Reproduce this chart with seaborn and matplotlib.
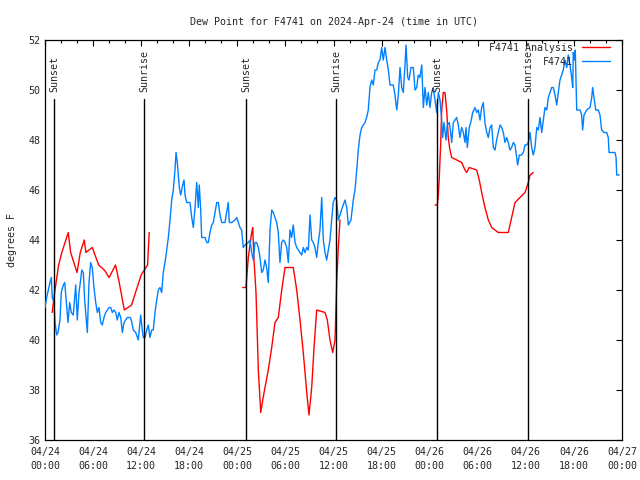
import numpy as np
import pandas as pd
import seaborn as sns
import matplotlib.pyplot as plt

# hours after 2024-04-24 00:00 UTC
obs_hours = [0.00, 0.21, 0.62, 0.79, 0.91, 1.12, 1.25, 1.46, 1.62, 1.87, 2.03, 2.28, 2.46, 2.71, 2.87,
             3.08, 3.28, 3.53, 3.83, 4.03, 4.24, 4.45, 4.58, 4.78, 4.95, 5.28, 5.49, 5.70, 5.90, 6.11,
             6.33, 6.53, 6.74, 6.95, 7.15, 7.36, 7.57, 7.99, 8.20, 8.40, 8.61, 8.82, 9.02, 9.23, 9.45,
             9.65, 9.86, 10.27, 10.61, 10.77, 11.02, 11.32, 11.64, 11.94, 12.14, 12.27, 12.48, 12.69,
             12.89, 13.10, 13.31, 13.51, 13.73, 13.94, 14.14, 14.35, 14.56, 14.76, 14.97, 15.19, 15.39,
             15.60, 15.81, 16.01, 16.22, 16.35, 16.51, 16.76, 16.93, 17.18, 17.35, 17.47, 17.68, 18.09,
             18.31, 18.51, 18.72, 18.93, 19.13, 19.25, 19.43, 19.55, 19.97, 20.18, 20.38, 20.59, 20.80,
             21.00, 21.21, 21.43, 21.62, 21.84, 22.05, 22.46, 22.67, 22.87, 23.00, 23.30, 23.71, 23.92,
             24.12, 24.33, 24.54, 24.74, 24.96, 25.37, 25.58, 25.79, 25.99, 26.20, 26.42, 26.62, 26.83,
             27.04, 27.24, 27.45, 27.66, 27.86, 28.08, 28.29, 28.49, 28.70, 28.91, 29.11, 29.32, 29.53,
             29.74, 29.95, 30.16, 30.36, 30.57, 30.78, 30.98, 31.20, 31.41, 31.82, 32.03, 32.23, 32.44,
             32.66, 32.86, 33.07, 33.28, 33.48, 33.69, 33.90, 34.10, 34.31, 34.53, 34.73, 34.94, 35.15,
             35.35, 35.56, 35.77, 35.97, 36.19, 36.40, 36.60, 36.81, 37.10, 37.44, 37.65, 37.85, 38.18,
             38.47, 38.68, 38.90, 39.09, 39.31, 39.52, 39.93, 40.14, 40.34, 40.55, 40.76, 40.97, 41.18,
             41.39, 41.59, 41.80, 42.01, 42.21, 42.43, 42.64, 42.84, 43.05, 43.46, 43.67, 43.89, 44.09,
             44.30, 44.51, 44.71, 44.92, 45.05, 45.26, 45.42, 45.67, 45.96, 46.17, 46.38, 46.58, 46.79,
             47.01, 47.21, 47.42, 47.63, 47.83, 48.04, 48.25, 48.45, 48.67, 48.88, 49.08, 49.29, 49.50,
             49.62, 49.79, 50.04, 50.20, 50.45, 50.62, 50.75, 50.95, 51.16, 51.37, 51.57, 51.78, 51.99,
             52.20, 52.41, 52.53, 52.70, 52.94, 53.12, 53.37, 53.66, 53.87, 54.07, 54.28, 54.49, 54.69,
             54.90, 55.12, 55.32, 55.53, 55.74, 55.94, 56.15, 56.36, 56.56, 56.78, 56.99, 57.19, 57.40,
             57.61, 57.81, 58.02, 58.23, 58.44, 58.65, 58.86, 58.98, 59.18, 59.48, 59.68, 59.90, 60.11,
             60.31, 60.52, 60.73, 60.93, 61.14, 61.36, 61.56, 61.77, 61.98, 62.18, 62.39, 62.61, 62.81,
             63.01, 63.22, 63.43, 63.64, 63.85, 64.05, 64.26, 64.47, 64.67, 64.89, 65.10, 65.30, 65.51,
             65.72, 65.85, 65.92, 66.05, 66.17, 66.35, 66.76, 66.97, 67.09, 67.26, 67.59, 68.01, 68.22,
             68.34, 68.50, 68.72, 69.04, 69.25, 69.46, 69.72, 70.09, 70.29, 70.38, 71.13, 71.26, 71.34,
             71.66]
obs_dewpt = [41.3, 41.7, 42.3, 42.5, 41.7, 41.5, 40.7, 40.2, 40.3, 40.8, 41.9, 42.2, 42.3, 41.3, 40.7,
             41.5, 41.1, 41.0, 42.2, 40.8, 41.9, 42.4, 42.8, 42.7, 41.6, 40.3, 42.3, 43.1, 42.9, 42.1,
             41.5, 41.1, 41.3, 40.7, 40.6, 40.9, 41.1, 41.3, 41.3, 41.1, 41.2, 41.1, 40.8, 41.1, 40.9,
             40.3, 40.7, 40.9, 40.9, 40.8, 40.4, 40.3, 40.0, 41.0, 40.4, 40.1, 40.1, 40.4,
             40.6, 40.1, 40.4, 40.4, 41.1, 41.6, 42.0, 42.1, 41.9, 42.7, 43.1, 43.6, 44.1,
             44.8, 45.6, 46.0, 46.8, 47.5, 47.1, 46.1, 45.8, 46.2, 46.4, 45.8, 45.5, 45.5,
             44.9, 44.5, 45.3, 46.3, 45.3, 46.2, 45.2, 44.1, 44.1, 43.9, 43.9, 44.3, 44.6,
             44.7, 45.1, 45.5, 45.5, 45.0, 44.7, 44.7, 45.1, 45.5, 44.7, 44.7, 44.8, 44.9,
             44.7, 44.5, 44.4, 43.7, 43.8, 43.9, 44.0, 43.5, 43.2, 43.9, 43.9, 43.7, 43.3,
             42.7, 42.8, 43.2, 42.9, 42.3, 44.4, 45.2, 45.1, 44.9, 44.7, 44.3, 43.1, 43.9,
             44.0, 43.9, 43.7, 43.1, 44.4, 44.1, 44.6, 43.9, 43.7, 43.5, 43.4, 43.7, 43.5,
             43.7, 43.6, 45.0, 44.0, 43.9, 43.7, 43.3, 43.9, 44.4, 45.7, 44.0, 43.5, 43.2,
             43.6, 44.0, 44.8, 45.5, 45.7, 45.6, 44.8, 45.0, 45.3, 45.6, 45.3, 44.6, 44.8,
             45.6, 46.0, 46.8, 47.6, 48.2, 48.5, 48.7, 48.9, 49.2, 50.1, 50.4, 50.2, 50.8,
             50.8, 51.1, 51.2, 51.7, 51.2, 51.7, 51.2, 50.8, 50.2, 50.2, 49.8, 49.2, 49.8,
             50.9, 50.1, 49.9, 51.0, 51.8, 50.5, 50.4, 50.9, 50.9, 50.0, 50.1, 50.6, 50.5,
             51.0, 49.3, 50.1, 49.4, 49.9, 49.3, 49.9, 50.1, 49.6, 49.1, 49.9, 49.6, 48.8,
             48.1, 48.7, 48.0, 48.6, 48.7, 48.3, 47.9, 48.7, 48.8, 48.9, 48.6, 48.1, 48.5,
             48.3, 47.9, 48.5, 47.7, 48.5, 48.7, 49.1, 49.3, 49.1, 49.2, 48.8, 49.3, 49.5,
             48.7, 48.3, 48.1, 48.5, 48.6, 47.7, 47.6, 48.0, 48.3, 48.6, 48.5, 48.3, 47.9,
             48.1, 47.9, 47.6, 47.7, 47.9, 47.8, 47.3, 47.0, 47.4, 47.4, 47.5, 47.8, 47.8,
             47.9, 48.3, 47.7, 47.4, 47.7, 48.5, 48.4, 48.9, 48.3, 48.8, 49.3, 49.2, 49.7,
             49.9, 50.1, 50.1, 49.8, 49.4, 49.9, 50.4, 50.6, 50.8, 51.2, 50.9, 51.4, 51.0,
             50.5, 50.1, 51.5, 51.2, 51.6, 49.2, 49.2, 49.0, 48.4, 49.0, 49.2, 49.3, 49.7,
             50.1, 49.7, 49.2, 49.2, 49.0, 48.4, 48.3, 48.3, 48.1, 47.5, 47.5, 47.3, 46.6,
             46.6]

# analysis runs, one per night
ana_hours_1 = [0.90, 1.20, 1.70, 2.10, 2.60, 2.90, 3.20, 3.60, 4.00, 4.40, 4.90, 5.10, 5.90, 6.70,
               7.40, 8.00, 8.80, 9.20, 9.90, 10.80, 11.50, 12.00, 12.80, 13.00]
ana_dewpt_1 = [41.1, 41.9, 43.0, 43.5, 44.0, 44.3, 43.5, 43.1, 42.7, 43.5, 44.0, 43.5, 43.7, 43.0,
               42.8, 42.5, 43.0, 42.4, 41.2, 41.4, 42.1, 42.6, 43.0, 44.3]
ana_hours_2 = [24.67, 25.08, 25.17, 25.37, 25.79, 25.92, 26.08, 26.33, 26.62, 26.92, 27.17, 27.45,
               27.86, 28.29, 28.70, 29.11, 29.54, 29.95, 30.98, 31.41, 31.82, 32.23, 32.66, 32.94,
               33.28, 33.57, 33.90, 34.94, 35.23, 35.56, 35.90, 36.19, 36.40, 36.60, 36.81]
ana_dewpt_2 = [42.1, 42.1, 42.5, 43.3, 44.3, 44.5, 43.2, 41.9, 38.8, 37.1, 37.6, 38.1,
               38.8, 39.7, 40.7, 40.9, 42.0, 42.9, 42.9, 42.0, 40.8, 39.5, 37.9, 37.0,
               38.1, 39.7, 41.2, 41.1, 40.8, 40.0, 39.5, 40.0, 42.3, 43.7, 44.8]
ana_hours_3 = [48.67, 48.95, 49.08, 49.20, 49.38, 49.50, 49.70, 49.91, 50.12, 50.32, 50.53, 50.75,
               51.37, 51.99, 52.41, 52.62, 52.94, 53.87, 54.19, 54.49, 54.90, 55.32, 55.74, 56.56,
               57.81, 58.23, 58.65, 59.27, 59.90, 60.31, 60.52, 60.93]
ana_dewpt_3 = [45.4, 45.4, 45.8, 46.5, 47.9, 49.2, 49.9, 49.9, 49.2, 48.1, 47.6, 47.3,
               47.2, 47.1, 46.8, 46.7, 46.9, 46.8, 46.4, 45.9, 45.3, 44.8, 44.5, 44.3,
               44.3, 44.9, 45.5, 45.7, 45.9, 46.3, 46.6, 46.7]

sun_hours = [1.12, 12.35, 25.08, 36.31, 48.90, 60.27]
sun_labels = ["Sunset", "Sunrise", "Sunset", "Sunrise", "Sunset", "Sunrise"]

start = pd.Timestamp("2024-04-24 00:00")


def to_time(hours):
    return start + pd.to_timedelta(np.asarray(hours), unit="h")


obs = pd.DataFrame({"time": to_time(obs_hours), "dewpt": obs_dewpt})
runs = [(ana_hours_1, ana_dewpt_1), (ana_hours_2, ana_dewpt_2), (ana_hours_3, ana_dewpt_3)]

sns.set_style("white")
plt.rcParams["font.family"] = ["DejaVu Sans Mono"]
fs = 7.2

fig, ax = plt.subplots(figsize=(6.4, 4.8), dpi=100)
fig.subplots_adjust(left=45/640, right=622/640, bottom=40/480, top=440/480)

# one line per analysis run, only the first goes in the legend
for i, (h, v) in enumerate(runs):
    run = pd.DataFrame({"time": to_time(h), "dewpt": v})
    sns.lineplot(data=run, x="time", y="dewpt", color="#ff0000", lw=1.0,
                 label="F4741 Analysis" if i == 0 else "_nolegend_", ax=ax, zorder=2)
sns.lineplot(data=obs, x="time", y="dewpt", color="#0080ff", lw=1.0,
             label="F4741", ax=ax, zorder=3)

for h, name in zip(sun_hours, sun_labels):
    t = to_time([h])[0]
    ax.plot([t, t], [36, 49.63], color="black", lw=1.0, zorder=4)
    ax.text(t, 49.9, name, rotation=90, ha="center", va="bottom", fontsize=fs, zorder=4)

end = pd.Timestamp("2024-04-27 00:00")
ax.set_xlim(start, end)
ax.set_ylim(36, 52)

major = pd.date_range(start, end, freq="6h")
minor = pd.date_range(start, end, freq="2h")
ax.set_xticks(major, [t.strftime("%m/%d\n%H:%M") for t in major])
ax.set_xticks(minor, minor=True)
plt.setp(ax.get_xticklabels(), linespacing=1.5)
ax.set_yticks(np.arange(36, 53, 2))

ax.tick_params(which="both", direction="in", top=True, right=True, labelsize=fs, color="black")
ax.tick_params(which="major", length=4.5, width=0.8)
ax.tick_params(which="minor", length=2.5, width=0.8)
ax.tick_params(axis="x", pad=5)
for s in ax.spines.values():
    s.set_color("black")
    s.set_linewidth(0.9)

ax.set_xlabel("")
ax.set_ylabel("degrees F", fontsize=fs, labelpad=8)
ax.set_title("Dew Point for F4741 on 2024-Apr-24 (time in UTC)", fontsize=fs, pad=11)

ax.legend(loc="upper right", bbox_to_anchor=(0.979, 0.993), frameon=False, markerfirst=False,
          fontsize=fs, handlelength=2.8, handletextpad=0.9, labelspacing=0.4,
          borderpad=0, borderaxespad=0)

fig.savefig("out.png", dpi=100)
